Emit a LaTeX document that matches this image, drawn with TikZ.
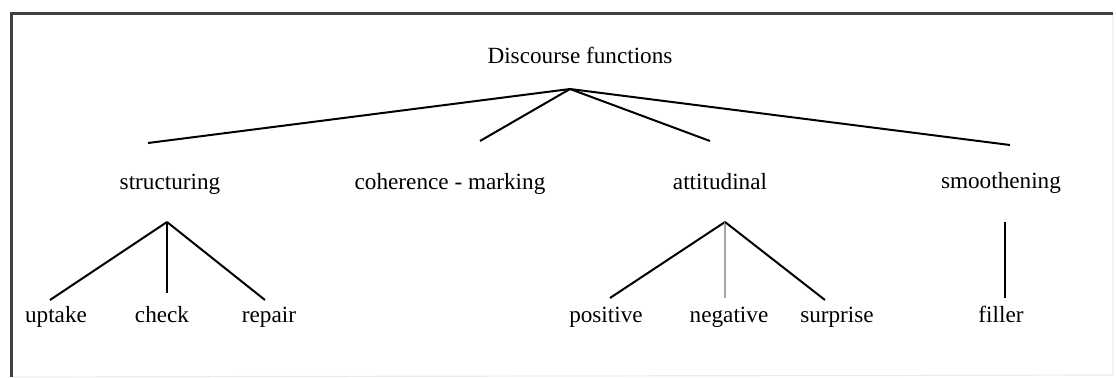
\documentclass[tikz,border=0pt]{standalone}
\usepackage{fontspec}
\setmainfont{Liberation Serif}
\usepackage{tikz}
\usetikzlibrary{positioning}

\begin{document}
\begin{tikzpicture}[
    x=0.5pt, y=-0.5pt,
    font=\fontsize{11.6}{14}\selectfont,
    label/.style={anchor=base, inner sep=0pt},
    branch/.style={line width=1pt, black},
    greybranch/.style={line width=1pt, gray!70},
    frame/.style={line width=1.5pt, black!75},
    faintframe/.style={line width=0.6pt, gray!15}
]
\useasboundingbox (0,0) rectangle (1116,377);

% frame
\coordinate (frametl) at (11,13);
\coordinate (frametr) at (1113,13);
\coordinate (framebl) at (11,377);
\coordinate (framebr) at (1113,375);
\draw[faintframe] (frametr) -- (framebr) -- (framebl);
\draw[frame] (frametr) -- (frametl) -- (framebl);

% labels
\node[label] (root) at (580,63) {Discourse functions};

\node[label] (struct) at (170,189) {structuring};
\node[label] (coher) at (450,189) {coherence - marking};
\node[label] (attit) at (720,189) {attitudinal};
\node[label] (smooth) at (1001,188) {smoothening};

\node[label] (uptake) at (56,322) {uptake};
\node[label] (check) at (162,322) {check};
\node[label] (repair) at (269,322) {repair};
\node[label] (posit) at (606,322) {positive};
\node[label] (negat) at (729,322) {negative};
\node[label] (surpr) at (837,322) {surprise};
\node[label] (filler) at (1001,322) {filler};

% branch points
\coordinate (rootfoot) at (570,89);
\coordinate (structin) at (148,143);
\coordinate (coherin) at (480,141);
\coordinate (attitin) at (710,141);
\coordinate (smoothin) at (1010,145);

\coordinate (structfoot) at (167,222);
\coordinate (uptakein) at (50,300);
\coordinate (checkin) at (167,293);
\coordinate (repairin) at (265,300);

\coordinate (attitfoot) at (725,222);
\coordinate (positin) at (610,298);
\coordinate (negatin) at (725,298);
\coordinate (surprin) at (825,300);

\coordinate (smoothfoot) at (1005,222);
\coordinate (fillerin) at (1005,298);

% branches
\draw[branch] (rootfoot) -- (structin);
\draw[branch] (rootfoot) -- (coherin);
\draw[branch] (rootfoot) -- (attitin);
\draw[branch] (rootfoot) -- (smoothin);

\draw[branch] (structfoot) -- (uptakein);
\draw[branch] (structfoot) -- (checkin);
\draw[branch] (structfoot) -- (repairin);

\draw[branch] (attitfoot) -- (positin);
\draw[greybranch] (attitfoot) -- (negatin);
\draw[branch] (attitfoot) -- (surprin);

\draw[branch] (smoothfoot) -- (fillerin);

\end{tikzpicture}
\end{document}
